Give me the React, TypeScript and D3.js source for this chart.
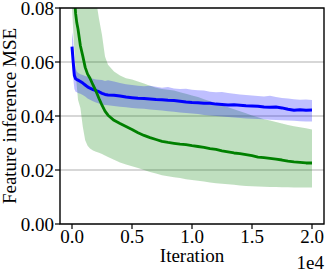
import React from "react";
import * as d3 from "d3";

const iterations = [0,100,200,300,400,500,700,900,1100,1300,1500,1750,2000,2250,2500,2750,3000,3500,4000,4500,5000,5500,6000,6500,7000,7500,8000,8500,9000,9500,10000,10500,11000,11500,12000,12500,13000,13500,14000,14500,15000,15500,16000,16500,17000,17500,18000,18500,19000,19500,20000];

const blueMean = [0.0657,0.060,0.055,0.0538,0.0535,0.0533,0.0528,0.0522,0.0515,0.0508,0.0503,0.0498,0.0494,0.0490,0.0484,0.0480,0.0478,0.0477,0.0474,0.0470,0.0468,0.0466,0.0465,0.0463,0.0461,0.0460,0.0458,0.0457,0.0455,0.0452,0.0450,0.0449,0.0447,0.0447,0.0444,0.0443,0.0441,0.0442,0.0440,0.0438,0.0437,0.0436,0.0433,0.0432,0.0433,0.0430,0.0425,0.0421,0.0423,0.0421,0.0422];
const blueUpper = [0.071,0.068,0.060,0.0575,0.0565,0.056,0.0555,0.0552,0.0548,0.0545,0.054,0.0538,0.0535,0.0534,0.0533,0.0530,0.0532,0.0528,0.0522,0.0518,0.0515,0.0512,0.0510,0.0512,0.0508,0.0505,0.0507,0.0502,0.0500,0.0501,0.0497,0.0495,0.0494,0.0490,0.0488,0.0489,0.0485,0.0482,0.0480,0.0478,0.0476,0.0474,0.0472,0.0475,0.0470,0.0467,0.0465,0.0462,0.0460,0.0461,0.0459];
const blueLower = [0.060,0.054,0.050,0.049,0.0488,0.0485,0.0482,0.0478,0.0472,0.0465,0.046,0.0455,0.0450,0.0446,0.0443,0.0441,0.0440,0.0437,0.0434,0.0432,0.0430,0.0428,0.0427,0.0424,0.0422,0.0420,0.0418,0.0416,0.0413,0.0411,0.0409,0.0407,0.0404,0.0402,0.0400,0.0398,0.0396,0.0394,0.0393,0.0391,0.0390,0.0389,0.0388,0.0386,0.0385,0.0384,0.0383,0.0382,0.0381,0.0380,0.0380];

const greenMean = [0.115,0.097,0.085,0.078,0.0745,0.0722,0.066,0.0622,0.058,0.0555,0.0540,0.0515,0.0492,0.0465,0.0440,0.0418,0.0403,0.0384,0.0372,0.0361,0.0350,0.0338,0.0328,0.0320,0.0313,0.0306,0.0302,0.0299,0.0296,0.0294,0.0290,0.0287,0.0284,0.0279,0.0276,0.0271,0.0267,0.0263,0.0261,0.0257,0.0253,0.0248,0.0246,0.0243,0.0240,0.0237,0.0233,0.0230,0.0228,0.0226,0.0226];
const greenUpper = [0.20,0.19,0.18,0.17,0.16,0.15,0.135,0.122,0.112,0.104,0.097,0.090,0.083,0.076,0.070,0.062,0.059,0.0565,0.055,0.054,0.0535,0.0528,0.052,0.0512,0.0505,0.050,0.0497,0.0494,0.0488,0.0482,0.0476,0.0470,0.0462,0.0455,0.0448,0.0440,0.0432,0.0425,0.0418,0.0410,0.0402,0.0395,0.0388,0.0383,0.0378,0.0372,0.0367,0.0362,0.0358,0.0355,0.0350];
const greenLower = [0.080,0.072,0.064,0.057,0.051,0.046,0.043,0.036,0.031,0.0290,0.0280,0.0272,0.0268,0.0264,0.0259,0.0254,0.0248,0.0238,0.0228,0.0220,0.0214,0.0207,0.0200,0.0193,0.0187,0.0181,0.0177,0.0173,0.0170,0.0166,0.0163,0.0160,0.0157,0.0154,0.0151,0.0149,0.0147,0.0145,0.0143,0.0141,0.0140,0.0139,0.0138,0.0137,0.0137,0.0136,0.0136,0.0135,0.0135,0.0135,0.0135];

const xTicks = [0, 5000, 10000, 15000, 20000];
const xTickLabels = ["0.0", "0.5", "1.0", "1.5", "2.0"];
const yTicks = [0, 0.02, 0.04, 0.06, 0.08];
const yTickLabels = ["0.00", "0.02", "0.04", "0.06", "0.08"];

const W = 328, H = 276;
const L = 60, R = 324, T = 8, B = 224;
const txt: React.CSSProperties = { fontFamily: '"Liberation Serif"', fontSize: "19px" };

export default function App() {
  const x = d3.scaleLinear().domain([-1000, 21000]).range([L, R]);
  const y = d3.scaleLinear().domain([0, 0.08]).range([B, T]);

  const band = (lo: number[], hi: number[]) =>
    d3.area<number>().x((_, i) => x(iterations[i])).y0((_, i) => y(lo[i])).y1((_, i) => y(hi[i]))(iterations) || "";
  const line = (m: number[]) =>
    d3.line<number>().x((_, i) => x(iterations[i])).y((_, i) => y(m[i]))(iterations) || "";

  return (
    <svg width={W} height={H} style={{ position: "absolute", left: 0, top: 0, background: "#fff" }}>
      <defs>
        <clipPath id="plotclip">
          <rect x={L} y={T} width={R - L} height={B - T} />
        </clipPath>
      </defs>
      <rect x={0} y={0} width={W} height={H} fill="#fff" />
      {yTicks.map((t) => (
        <line key={"g" + t} x1={L} x2={R} y1={y(t)} y2={y(t)} stroke="#b0b0b0" strokeWidth={1.2} />
      ))}
      <g clipPath="url(#plotclip)">
        <path d={band(greenLower, greenUpper)} fill="green" fillOpacity={0.25} />
        <path d={band(blueLower, blueUpper)} fill="blue" fillOpacity={0.25} />
        <path d={line(blueMean)} fill="none" stroke="blue" strokeWidth={3} strokeLinejoin="round" />
        <path d={line(greenMean)} fill="none" stroke="green" strokeWidth={2.8} strokeLinejoin="round" />
      </g>
      <rect x={L} y={T} width={R - L} height={B - T} fill="none" stroke="#000" strokeWidth={1.4} />
      {yTicks.map((t, i) => (
        <g key={"y" + t}>
          <line x1={L - 5} x2={L} y1={y(t)} y2={y(t)} stroke="#000" strokeWidth={1.2} />
          <text x={L - 6} y={y(t)} dy="0.38em" textAnchor="end" style={txt} fill="#000">
            {yTickLabels[i]}
          </text>
        </g>
      ))}
      {xTicks.map((t, i) => (
        <g key={"x" + t}>
          <line x1={x(t)} x2={x(t)} y1={B} y2={B + 5} stroke="#000" strokeWidth={1.2} />
          <text x={x(t)} y={243} textAnchor="middle" style={txt} fill="#000">
            {xTickLabels[i]}
          </text>
        </g>
      ))}
      <text x={(L + R) / 2} y={262} textAnchor="middle" style={txt} fill="#000">Iteration</text>
      <text x={R} y={269} textAnchor="end" style={txt} fill="#000">1e4</text>
      <text transform={`translate(16,${(T + B) / 2}) rotate(-90)`} textAnchor="middle" style={txt} fill="#000">
        Feature inference MSE
      </text>
    </svg>
  );
}
